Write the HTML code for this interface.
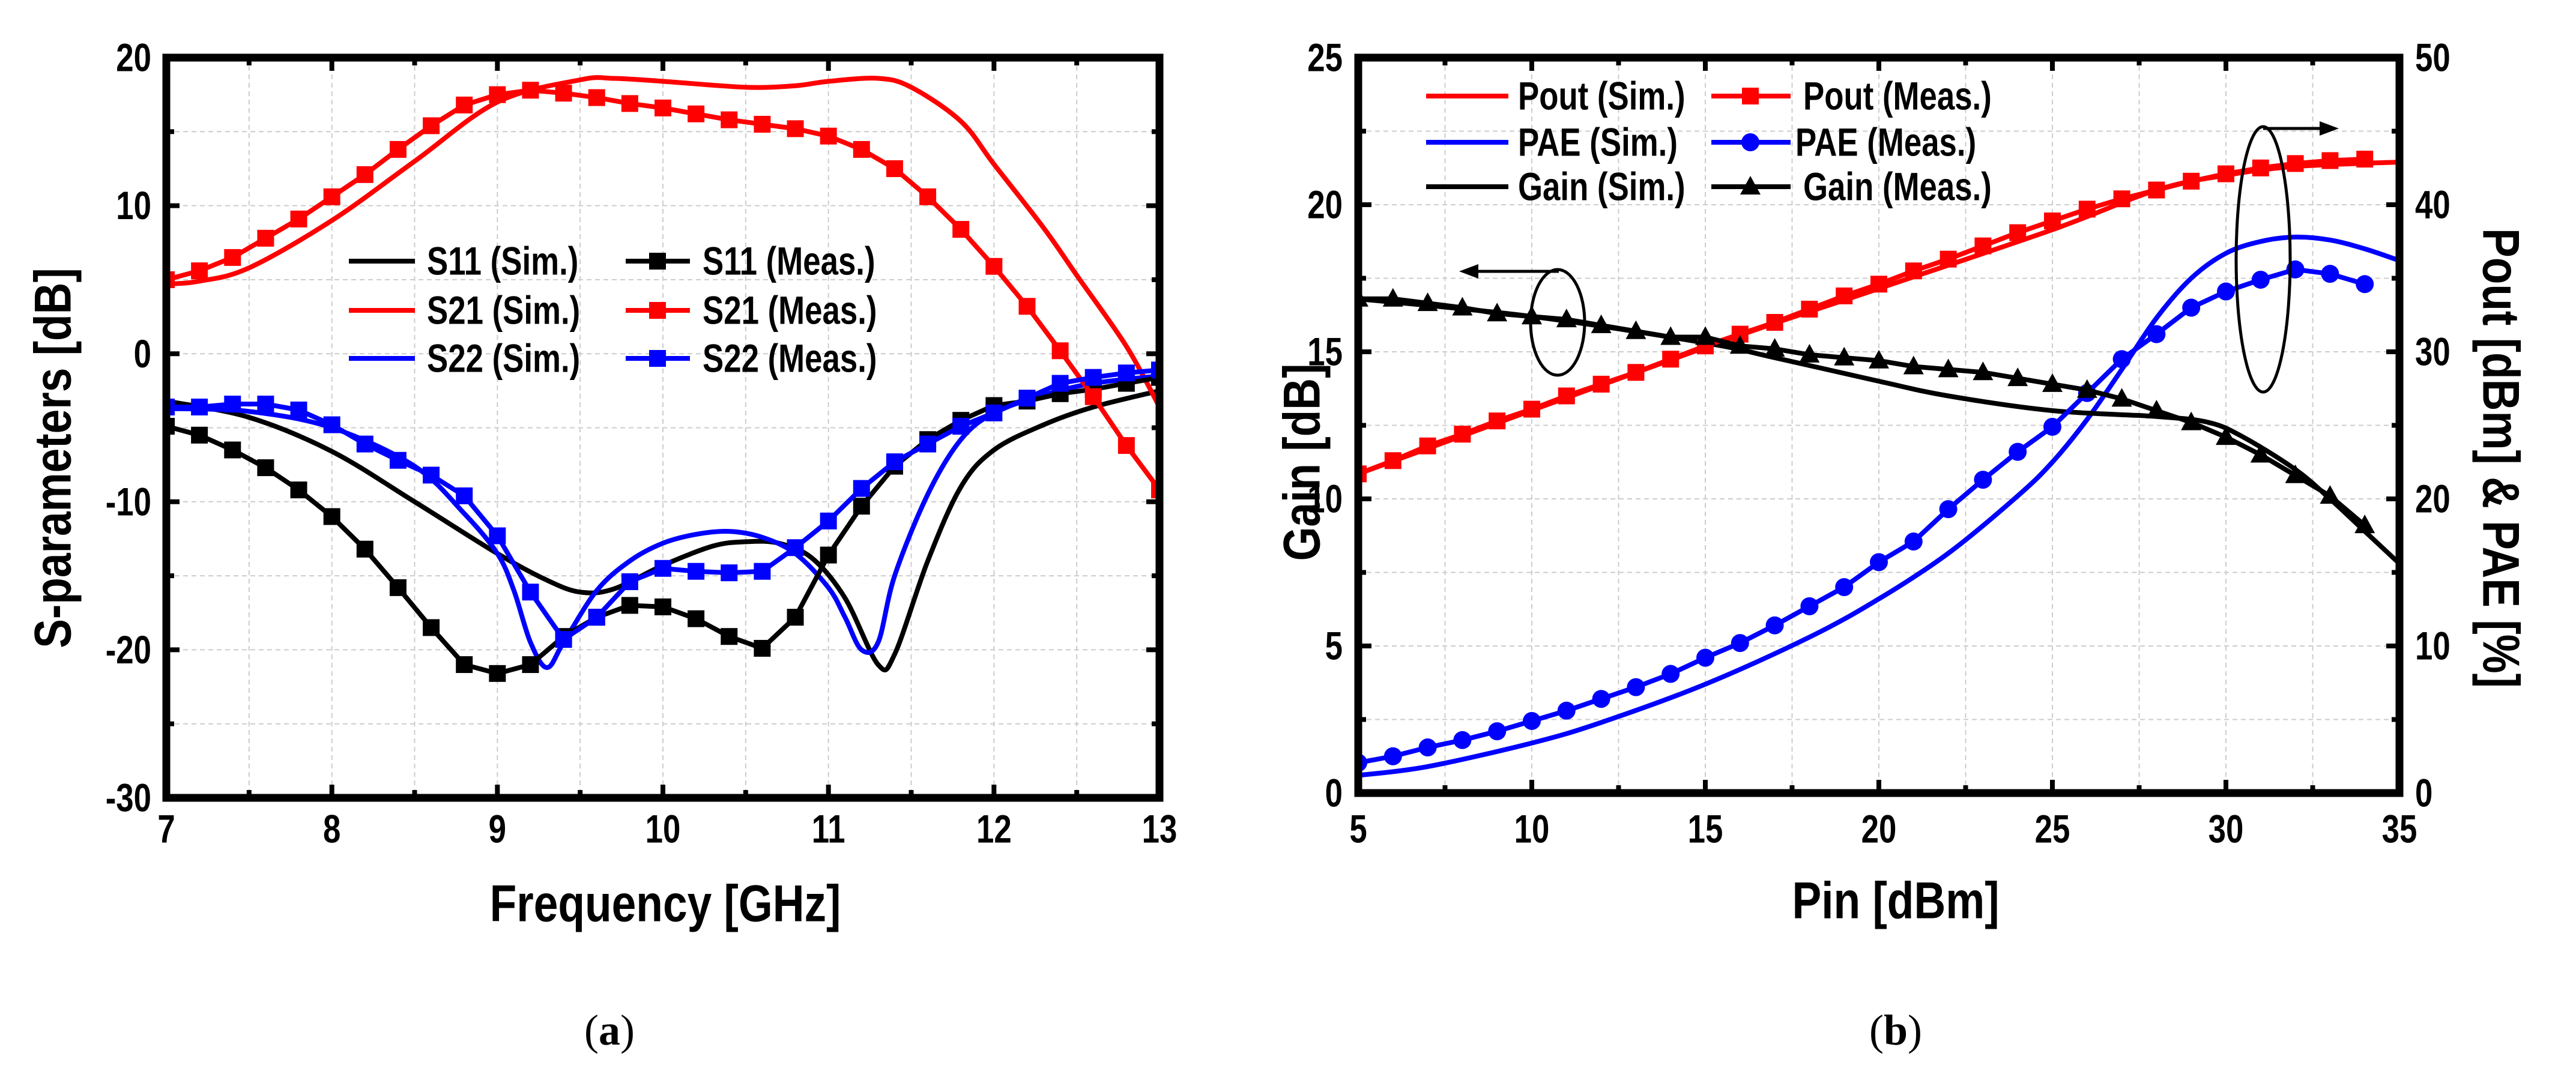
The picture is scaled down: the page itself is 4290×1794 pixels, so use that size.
<!DOCTYPE html>
<html><head><meta charset="utf-8"><style>
html,body{margin:0;padding:0;background:#fff}
svg{display:block}
text{font-family:"Liberation Sans",Arial,sans-serif;font-weight:bold;fill:#000}
</style></head><body>
<svg id="s" width="4290" height="1794" viewBox="0 0 4290 1794" xmlns="http://www.w3.org/2000/svg"></svg>
<script>
// ---------- Chart (a) data ----------
const aFreqMeas = [7,7.2,7.4,7.6,7.8,8,8.2,8.4,8.6,8.8,9,9.2,9.4,9.6,9.8,10,10.2,10.4,10.6,10.8,11,11.2,11.4,11.6,11.8,12,12.2,12.4,12.6,12.8,13];
const s21Meas = [5.0,5.6,6.5,7.8,9.1,10.6,12.1,13.8,15.4,16.8,17.5,17.8,17.6,17.3,16.9,16.6,16.2,15.8,15.5,15.2,14.7,13.8,12.5,10.6,8.4,5.9,3.2,0.2,-2.9,-6.2,-9.2];
const s11Meas = [-4.9,-5.5,-6.5,-7.7,-9.2,-11.0,-13.2,-15.8,-18.5,-21.0,-21.6,-21.0,-19.1,-17.8,-17.0,-17.1,-17.9,-19.1,-19.9,-17.8,-13.6,-10.3,-7.6,-5.8,-4.5,-3.5,-3.2,-2.7,-2.4,-2.0,-1.6];
const s22Meas = [-3.6,-3.6,-3.4,-3.4,-3.8,-4.8,-6.1,-7.2,-8.2,-9.6,-12.3,-16.1,-19.3,-17.8,-15.4,-14.5,-14.7,-14.8,-14.7,-13.1,-11.3,-9.1,-7.3,-6.1,-4.9,-4.0,-3.0,-2.0,-1.6,-1.3,-1.1];
const s21SimF = [7,7.2,7.5,8,8.5,9,9.5,9.7,10,10.5,10.8,11,11.3,11.5,11.8,12,12.3,12.5,12.8,13];
const s21Sim  = [4.7,4.9,5.8,9,13,17,18.5,18.6,18.4,18.0,18.1,18.4,18.6,18.0,15.7,12.8,8.5,5.3,0.5,-3.6];
const s11SimF = [7,7.5,8,8.5,9,9.3,9.5,9.7,10,10.3,10.5,10.7,10.9,11.1,11.3,11.4,11.6,11.8,12,12.3,12.6,13];
const s11Sim  = [-3.2,-4.3,-6.6,-10,-13.5,-15.3,-16.1,-15.9,-14.3,-13.0,-12.7,-12.8,-13.8,-16.5,-21,-20.3,-14,-9,-6.5,-4.8,-3.6,-2.5];
const s22SimF = [7,7.5,8,8.5,8.8,9,9.1,9.2,9.3,9.4,9.6,9.8,10,10.2,10.4,10.6,10.8,11,11.1,11.2,11.3,11.4,11.6,11.8,12,12.3,12.6,13];
const s22Sim  = [-3.7,-3.9,-5.0,-7.6,-10.8,-13.5,-16,-19.5,-21.2,-19.5,-16,-14,-12.8,-12.2,-12.0,-12.4,-13.5,-15.8,-17.8,-20,-19.5,-15,-9.5,-5.8,-4.0,-2.8,-2.0,-1.5];
const aXTicks = [7,8,9,10,11,12,13];
const aYTicks = [20,10,0,-10,-20,-30];

// ---------- Chart (b) data ----------
const pin = [5,6,7,8,9,10,11,12,13,14,15,16,17,18,19,20,21,22,23,24,25,26,27,28,29,30,31,32,33,34];
const gainMeas = [16.8,16.8,16.65,16.5,16.3,16.2,16.1,15.9,15.7,15.5,15.5,15.2,15.1,14.9,14.8,14.7,14.5,14.4,14.3,14.1,13.9,13.7,13.4,13.0,12.6,12.1,11.5,10.8,10.1,9.1];
const poutMeas = [21.7,22.6,23.6,24.4,25.3,26.1,27.0,27.8,28.6,29.5,30.4,31.2,32.0,32.9,33.8,34.6,35.5,36.3,37.2,38.1,38.9,39.7,40.4,41.0,41.6,42.1,42.5,42.8,43.0,43.1];
const paeMeas  = [2.06,2.5,3.1,3.6,4.2,4.9,5.6,6.4,7.2,8.1,9.2,10.2,11.4,12.7,14.0,15.7,17.1,19.3,21.3,23.2,24.9,27.2,29.5,31.2,33.0,34.1,34.9,35.6,35.3,34.6];
const gainSimP = [5,10,15,17,20,22,25,28,29.5,30.5,32,33,34,35];
const gainSim  = [16.8,16.2,15.3,14.8,14.0,13.5,13.0,12.8,12.6,12.1,11.0,10.0,8.9,7.8];
const poutSimP = [5,15,20,25,28,30,32,35];
const poutSim  = [21.7,30.3,34.3,38.3,41.0,42.0,42.6,42.9];
const paeSimP  = [5,7,10,12,15,18,20,22,24,25,26,27,28,29,30,31,32,33,34,35];
const paeSim   = [1.2,1.8,3.4,4.8,7.4,10.6,13.2,16.3,20.2,22.5,25.4,28.8,32.3,35.0,36.7,37.5,37.8,37.6,37.0,36.2];
const bXTicks = [5,10,15,20,25,30,35];
const bYTicks = [0,5,10,15,20,25];
const bY2Ticks = [0,10,20,30,40,50];

const NS="http://www.w3.org/2000/svg";
const svg=document.getElementById('s');
function el(tag,attrs,parent){const e=document.createElementNS(NS,tag);for(const k in attrs)e.setAttribute(k,attrs[k]);(parent||svg).appendChild(e);return e;}
function txt(str,x,y,size,anchor,parent,rot,sx){
  const e=el('text',{'font-size':size,'text-anchor':anchor||'middle','dominant-baseline':'central',
    transform:`translate(${x},${y})`+(rot?` rotate(${rot})`:'')+` scale(${sx||0.8},1)`},parent);
  e.textContent=str;return e;}
function smooth(pts){
  let d=`M${pts[0][0]},${pts[0][1]}`;
  for(let i=0;i<pts.length-1;i++){
    const p0=pts[i-1]||pts[i],p1=pts[i],p2=pts[i+1],p3=pts[i+2]||p2;
    const c1=[p1[0]+(p2[0]-p0[0])/6,p1[1]+(p2[1]-p0[1])/6],c2=[p2[0]-(p3[0]-p1[0])/6,p2[1]-(p3[1]-p1[1])/6];
    d+=` C${c1[0]},${c1[1]} ${c2[0]},${c2[1]} ${p2[0]},${p2[1]}`;}
  return d;}

// ===== Chart A =====
const A={x0:277,x1:1931,y0:96,y1:1329};
const ax=v=>A.x0+(v-7)/6*(A.x1-A.x0);
const ay=v=>A.y0+(20-v)/50*(A.y1-A.y0);
const gA=el('g',{});


for(let v=7.5;v<13;v+=0.5){const l=el('line',{x1:ax(v),x2:ax(v),y1:A.y0,y2:A.y1,stroke:'#ccc','stroke-width':2,'stroke-dasharray':'8 6'},gA);}
for(let v=-25;v<20;v+=5){const l=el('line',{x1:A.x0,x2:A.x1,y1:ay(v),y2:ay(v),stroke:'#ccc','stroke-width':2,'stroke-dasharray':'8 6'},gA);}
for(let v=7;v<=13.001;v+=0.5){const L=Number.isInteger(v)?22:13;
  el('line',{x1:ax(v),x2:ax(v),y1:A.y1,y2:A.y1-L,stroke:'#000','stroke-width':8},gA);
  el('line',{x1:ax(v),x2:ax(v),y1:A.y0,y2:A.y0+L,stroke:'#000','stroke-width':8},gA);}
for(let v=-30;v<=20;v+=5){const L=v%10===0?22:13;
  el('line',{x1:A.x0,x2:A.x0+L,y1:ay(v),y2:ay(v),stroke:'#000','stroke-width':8},gA);
  el('line',{x1:A.x1,x2:A.x1-L,y1:ay(v),y2:ay(v),stroke:'#000','stroke-width':8},gA);}
aXTicks.forEach(v=>{const t=txt(String(v),ax(v),1381,66,'middle',gA);});
aYTicks.forEach(v=>{const t=txt(String(v),252,ay(v),66,'end',gA);});
const cA=el('clipPath',{id:'ca'});el('rect',{x:A.x0,y:A.y0,width:A.x1-A.x0,height:A.y1-A.y0},cA);
const serA=el('g',{'clip-path':'url(#ca)'},gA);
function simA(xs,ys,col,name){const p=el('path',{d:smooth(xs.map((x,i)=>[ax(x),ay(ys[i])])),fill:'none',stroke:col,'stroke-width':8},serA);}
function measA(xs,ys,col,name){const g=el('g',{},serA);
  el('polyline',{points:xs.map((x,i)=>ax(x)+','+ay(ys[i])).join(' '),fill:'none',stroke:col,'stroke-width':8},g);
  xs.forEach((x,i)=>{el('rect',{x:ax(x)-14,y:ay(ys[i])-14,width:28,height:28,fill:col},g);});}
simA(s11SimF,s11Sim,'#000','s11-sim-line');
simA(s21SimF,s21Sim,'#f00','s21-sim-line');
simA(s22SimF,s22Sim,'#00f','s22-sim-line');
measA(aFreqMeas,s11Meas,'#000','s11-meas-series');
measA(aFreqMeas,s21Meas,'#f00','s21-meas-series');
measA(aFreqMeas,s22Meas,'#00f','s22-meas-series');
el('rect',{x:A.x0,y:A.y0,width:A.x1-A.x0,height:A.y1-A.y0,fill:'none',stroke:'#000','stroke-width':13},gA);
// legend A
const legA=el('g',{},gA);
[['S11','#000',435],['S21','#f00',517],['S22','#00f',597]].forEach(([n,c,y])=>{
  el('line',{x1:581,x2:691,y1:y,y2:y,stroke:c,'stroke-width':8},legA);
  txt(n+' (Sim.)',711,y,66,'start',legA);
  el('line',{x1:1042,x2:1149,y1:y,y2:y,stroke:c,'stroke-width':8},legA);
  el('rect',{x:1081,y:y-14,width:28,height:28,fill:c},legA);
  txt(n+' (Meas.)',1170,y,66,'start',legA);});
const xtA=txt('Frequency [GHz]',1108,1505,86,'middle',gA,0,0.85);
const ytA=txt('S-parameters [dB]',88,763,86,'middle',gA,-90,0.85);
const capA=el('text',{x:1015,y:1716,'font-size':72,'text-anchor':'middle','dominant-baseline':'central',style:'font-family:"Liberation Serif",serif;font-weight:normal'},gA);
capA.innerHTML='(<tspan font-weight="bold">a</tspan>)';


// ===== Chart B =====
const B={x0:2262,x1:3996,y0:96,y1:1321};
const bx=v=>B.x0+(v-5)/30*(B.x1-B.x0);
const by=v=>B.y1-v/25*(B.y1-B.y0);
const by2=v=>B.y1-v/50*(B.y1-B.y0);
const gB=el('g',{});
for(let v=7.5;v<35;v+=2.5){const l=el('line',{x1:bx(v),x2:bx(v),y1:B.y0,y2:B.y1,stroke:'#ccc','stroke-width':2,'stroke-dasharray':'8 6'},gB);}
for(let v=2.5;v<25;v+=2.5){const l=el('line',{x1:B.x0,x2:B.x1,y1:by(v),y2:by(v),stroke:'#ccc','stroke-width':2,'stroke-dasharray':'8 6'},gB);}
for(let v=5;v<=35;v+=2.5){const L=v%5===0?22:13;
  el('line',{x1:bx(v),x2:bx(v),y1:B.y1,y2:B.y1-L,stroke:'#000','stroke-width':8},gB);
  el('line',{x1:bx(v),x2:bx(v),y1:B.y0,y2:B.y0+L,stroke:'#000','stroke-width':8},gB);}
for(let v=0;v<=25;v+=2.5){const L=v%5===0?22:13;
  el('line',{x1:B.x0,x2:B.x0+L,y1:by(v),y2:by(v),stroke:'#000','stroke-width':8},gB);
  el('line',{x1:B.x1,x2:B.x1-L,y1:by(v),y2:by(v),stroke:'#000','stroke-width':8},gB);}
bXTicks.forEach(v=>{const t=txt(String(v),bx(v),1381,66,'middle',gB);});
bYTicks.forEach(v=>{const t=txt(String(v),2236,by(v),66,'end',gB);});
bY2Ticks.forEach(v=>{const t=txt(String(v),4022,by2(v),66,'start',gB);});
const cB=el('clipPath',{id:'cb'});el('rect',{x:B.x0,y:B.y0,width:B.x1-B.x0,height:B.y1-B.y0},cB);
const serB=el('g',{'clip-path':'url(#cb)'},gB);
function simB(xs,ys,fy,col,name){const p=el('path',{d:smooth(xs.map((x,i)=>[bx(x),fy(ys[i])])),fill:'none',stroke:col,'stroke-width':8},serB);}
function measB(xs,ys,fy,col,shape,name){const g=el('g',{},serB);
  el('polyline',{points:xs.map((x,i)=>bx(x)+','+fy(ys[i])).join(' '),fill:'none',stroke:col,'stroke-width':8},g);
  xs.forEach((x,i)=>{const X=bx(x),Y=fy(ys[i]);
    if(shape==='sq')el('rect',{x:X-14,y:Y-14,width:28,height:28,fill:col},g);
    else if(shape==='c')el('circle',{cx:X,cy:Y,r:15,fill:col},g);
    else el('polygon',{points:`${X},${Y-18} ${X-17},${Y+13} ${X+17},${Y+13}`,fill:col},g);});}
simB(poutSimP,poutSim,by2,'#f00','pout-sim-line');
simB(paeSimP,paeSim,by2,'#00f','pae-sim-line');
simB(gainSimP,gainSim,by,'#000','gain-sim-line');
measB(pin,poutMeas,by2,'#f00','sq','pout-meas-series');
measB(pin,paeMeas,by2,'#00f','c','pae-meas-series');
measB(pin,gainMeas,by,'#000','t','gain-meas-series');
el('rect',{x:B.x0,y:B.y0,width:B.x1-B.x0,height:B.y1-B.y0,fill:'none',stroke:'#000','stroke-width':13},gB);
// annotations
const an=el('g',{},gB);
el('ellipse',{cx:2594,cy:537,rx:45,ry:88,fill:'none',stroke:'#000','stroke-width':5},an);
el('line',{x1:2596,y1:452,x2:2450,y2:452,stroke:'#000','stroke-width':5},an);
el('polygon',{points:'2430,452 2462,440 2462,464',fill:'#000'},an);
el('ellipse',{cx:3769,cy:432,rx:45,ry:221,fill:'none',stroke:'#000','stroke-width':5},an);
el('line',{x1:3769,y1:214,x2:3875,y2:214,stroke:'#000','stroke-width':5},an);
el('polygon',{points:'3895,214 3863,202 3863,226',fill:'#000'},an);
// legend B
const legB=el('g',{},gB);
[['Pout','#f00',160,'sq',3003],['PAE','#00f',237,'c',2990],['Gain','#000',311,'t',3003]].forEach(([n,c,y,sh,tx])=>{
  el('line',{x1:2375,x2:2512,y1:y,y2:y,stroke:c,'stroke-width':8},legB);
  txt(n+' (Sim.)',2528,y,66,'start',legB);
  el('line',{x1:2850,x2:2982,y1:y,y2:y,stroke:c,'stroke-width':8},legB);
  const X=2915;
  if(sh==='sq')el('rect',{x:X-14,y:y-14,width:28,height:28,fill:c},legB);
  else if(sh==='c')el('circle',{cx:X,cy:y,r:15,fill:c},legB);
  else el('polygon',{points:`${X},${y-18} ${X-17},${y+13} ${X+17},${y+13}`,fill:c},legB);
  txt(n+' (Meas.)',tx,y,66,'start',legB);});
const xtB=txt('Pin [dBm]',3157,1500,86,'middle',gB,0,0.85);
const ytB=txt('Gain [dB]',2168,770,86,'middle',gB,-90,0.85);
const yt2B=txt('Pout [dBm] & PAE [%]',4165,763,86,'middle',gB,90,0.85);
const capB=el('text',{x:3157,y:1716,'font-size':72,'text-anchor':'middle','dominant-baseline':'central',style:'font-family:"Liberation Serif",serif;font-weight:normal'},gB);
capB.innerHTML='(<tspan font-weight="bold">b</tspan>)';

</script>
</body></html>
